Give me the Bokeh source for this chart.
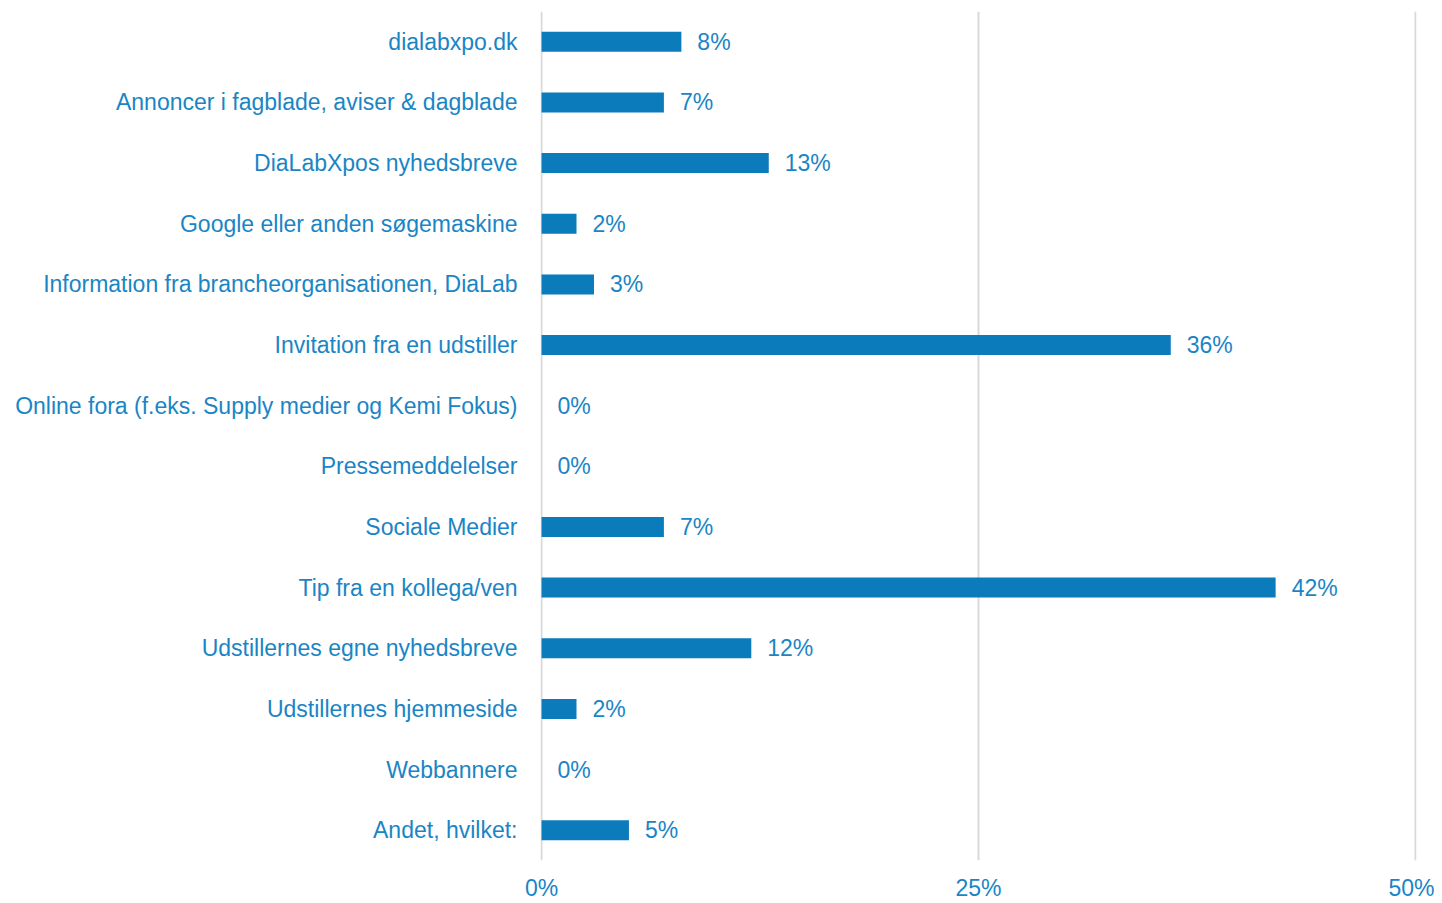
from bokeh.plotting import figure
from bokeh.models import ColumnDataSource, FactorRange, FixedTicker, CustomJSTickFormatter
from bokeh.core.properties import value
from bokeh.embed import file_html
from bokeh.resources import INLINE

categories = [
    "dialabxpo.dk",
    "Annoncer i fagblade, aviser & dagblade",
    "DiaLabXpos nyhedsbreve",
    "Google eller anden søgemaskine",
    "Information fra brancheorganisationen, DiaLab",
    "Invitation fra en udstiller",
    "Online fora (f.eks. Supply medier og Kemi Fokus)",
    "Pressemeddelelser",
    "Sociale Medier",
    "Tip fra en kollega/ven",
    "Udstillernes egne nyhedsbreve",
    "Udstillernes hjemmeside",
    "Webbannere",
    "Andet, hvilket:",
]
values = [8, 7, 13, 2, 3, 36, 0, 0, 7, 42, 12, 2, 0, 5]
x_ticks = [0, 25, 50]

BAR = "#0b7bbb"
TXT = "#1a85c5"
FONT = "Liberation Sans"
FS = "23px"

src = ColumnDataSource(dict(
    cat=categories,
    val=values,
    lab=[f"{v}%" for v in values],
))

p = figure(
    width=1434, height=903,
    y_range=FactorRange(factors=list(reversed(categories))),
    x_range=(-0.06, 50.06),
    output_backend="svg", toolbar_location=None,
    min_border_left=540, min_border_right=18, min_border_top=11, min_border_bottom=35,
)
p.outline_line_color = None
p.background_fill_color = "white"
p.border_fill_color = "white"

p.xgrid.ticker = FixedTicker(ticks=x_ticks)
p.xgrid.grid_line_color = "#d9d9d9"
p.xgrid.grid_line_width = 2
p.ygrid.grid_line_color = None

p.hbar(y="cat", right="val", left=0, height=0.33, source=src, color=BAR, line_color=None)
p.text(x="val", y="cat", text="lab", source=src, x_offset=16, text_baseline="middle",
       text_align="left", text_color=TXT, text_font=value(FONT), text_font_size=FS)

p.xaxis.ticker = FixedTicker(ticks=x_ticks)
p.xaxis.formatter = CustomJSTickFormatter(code="return tick + '%';")
p.xaxis.axis_line_color = None
p.xaxis.major_tick_line_color = None
p.xaxis.minor_tick_line_color = None
p.xaxis.major_label_standoff = 8
p.xaxis.major_label_text_color = TXT
p.xaxis.major_label_text_font = FONT
p.xaxis.major_label_text_font_size = FS

p.yaxis.axis_line_color = None
p.yaxis.major_tick_line_color = None
p.yaxis.minor_tick_line_color = None
p.yaxis.major_label_standoff = 17
p.yaxis.major_label_text_color = TXT
p.yaxis.major_label_text_font = FONT
p.yaxis.major_label_text_font_size = FS

open("out.html", "w").write(file_html(p, INLINE))
